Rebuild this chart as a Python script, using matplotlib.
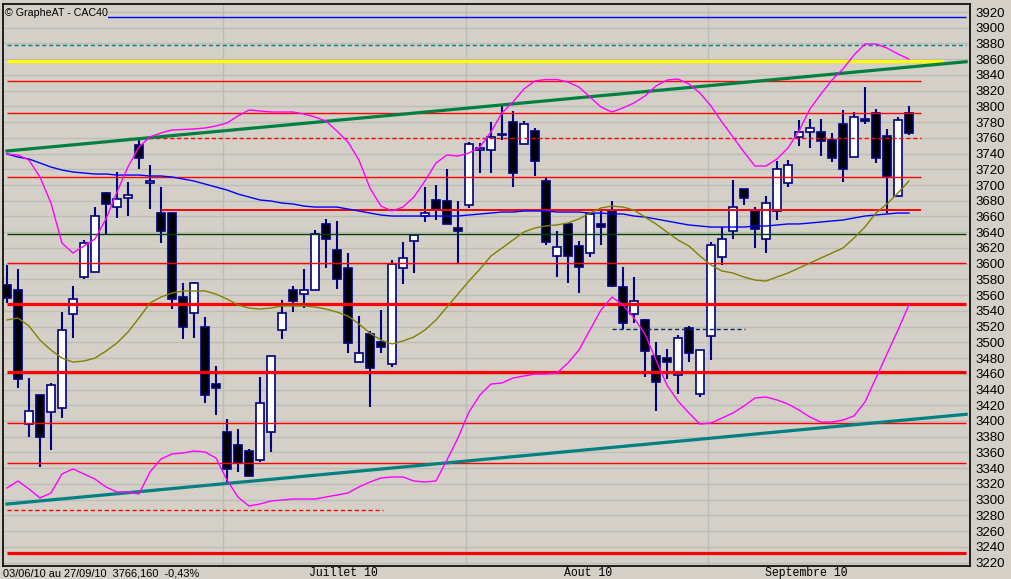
import numpy as np
import matplotlib.pyplot as plt
from matplotlib.transforms import blended_transform_factory

# CAC40 daily candles, 03/06/10 -> 27/09/10 (one entry per trading day)
opens = [3573, 3567, 3396, 3433, 3411, 3416, 3536, 3583, 3590, 3690,
         3672, 3684, 3751, 3702, 3665, 3665, 3558, 3537, 3519, 3447,
         3386, 3370, 3362, 3351, 3386, 3516, 3567, 3562, 3567, 3651,
         3617, 3594, 3475, 3511, 3500, 3472, 3595, 3629, 3661, 3681,
         3680, 3646, 3675, 3744, 3745, 3763, 3780, 3752, 3769, 3705,
         3610, 3650, 3622, 3614, 3650, 3667, 3570, 3536, 3529, 3483,
         3480, 3459, 3518, 3434, 3508, 3609, 3641, 3695, 3667, 3632,
         3667, 3702, 3761, 3767, 3767, 3757, 3777, 3736, 3784, 3792,
         3762, 3686, 3792]
highs = [3598, 3593, 3455, 3433, 3448, 3539, 3571, 3630, 3672, 3691,
         3717, 3704, 3759, 3726, 3697, 3666, 3576, 3577, 3532, 3470,
         3402, 3390, 3364, 3456, 3483, 3554, 3571, 3593, 3643, 3657,
         3654, 3614, 3534, 3515, 3541, 3605, 3628, 3637, 3698, 3700,
         3720, 3680, 3755, 3753, 3780, 3802, 3794, 3781, 3772, 3709,
         3642, 3651, 3629, 3666, 3668, 3680, 3596, 3583, 3530, 3501,
         3492, 3509, 3521, 3490, 3627, 3647, 3706, 3695, 3672, 3686,
         3731, 3732, 3783, 3784, 3784, 3766, 3795, 3793, 3825, 3797,
         3771, 3786, 3801]
lows = [3550, 3442, 3380, 3342, 3363, 3404, 3506, 3581, 3589, 3638,
        3658, 3661, 3721, 3670, 3626, 3543, 3504, 3506, 3423, 3407,
        3320, 3335, 3330, 3348, 3360, 3504, 3539, 3544, 3567, 3595,
        3568, 3486, 3475, 3418, 3487, 3468, 3574, 3588, 3653, 3655,
        3651, 3601, 3671, 3715, 3715, 3757, 3697, 3752, 3711, 3624,
        3583, 3576, 3563, 3609, 3624, 3570, 3517, 3524, 3456, 3413,
        3453, 3434, 3475, 3430, 3478, 3598, 3631, 3674, 3620, 3613,
        3656, 3697, 3750, 3747, 3737, 3729, 3704, 3736, 3777, 3728,
        3665, 3685, 3763]
closes = [3556, 3454, 3413, 3379, 3446, 3516, 3555, 3626, 3661, 3676,
          3682, 3687, 3735, 3705, 3641, 3555, 3519, 3576, 3433, 3442,
          3339, 3347, 3330, 3423, 3483, 3537, 3553, 3567, 3638, 3632,
          3581, 3499, 3486, 3467, 3494, 3600, 3607, 3636, 3665, 3669,
          3651, 3642, 3752, 3747, 3761, 3764, 3715, 3777, 3730, 3627,
          3621, 3610, 3596, 3663, 3647, 3571, 3525, 3552, 3489, 3449,
          3475, 3506, 3486, 3490, 3624, 3631, 3672, 3684, 3644, 3677,
          3721, 3725, 3767, 3773, 3756, 3735, 3721, 3787, 3781, 3734,
          3711, 3783, 3766]

# indicators
ma_long = [3739.5, 3735.6, 3733.1, 3728.0, 3722.9, 3719.1, 3716.6, 3715.3, 3714.0, 3714.0,
           3712.7, 3712.7, 3712.7, 3711.5, 3711.5, 3710.2, 3707.7, 3705.1, 3701.3, 3697.5,
           3693.7, 3688.6, 3684.8, 3681.0, 3679.7, 3677.1, 3675.9, 3673.3, 3672.0, 3672.0,
           3672.0, 3669.5, 3667.0, 3664.4, 3661.9, 3660.6, 3660.6, 3660.6, 3660.6, 3660.6,
           3660.6, 3660.6, 3661.9, 3663.2, 3664.4, 3665.7, 3665.7, 3667.0, 3667.0, 3667.0,
           3665.7, 3665.7, 3665.7, 3664.4, 3664.4, 3663.2, 3663.2, 3660.6, 3659.3, 3656.8,
           3654.3, 3651.7, 3649.2, 3647.9, 3646.6, 3646.6, 3646.6, 3646.6, 3647.9, 3647.9,
           3649.2, 3650.5, 3650.5, 3651.7, 3653.0, 3654.3, 3655.5, 3658.1, 3660.6, 3661.9,
           3663.2, 3664.4, 3664.4]
ma_short = [3528.4, 3530.9, 3520.8, 3502.9, 3490.2, 3480.0, 3474.9, 3476.2, 3480.0, 3488.9,
            3499.1, 3513.1, 3530.9, 3550.0, 3557.6, 3562.7, 3565.3, 3565.3, 3565.3, 3561.4,
            3555.1, 3547.5, 3543.6, 3542.3, 3543.6, 3546.2, 3546.2, 3546.2, 3544.9, 3542.3,
            3538.5, 3533.5, 3523.3, 3511.8, 3502.9, 3497.9, 3501.7, 3506.8, 3515.7, 3528.4,
            3544.9, 3561.4, 3577.9, 3593.2, 3609.8, 3619.9, 3630.1, 3640.3, 3645.4, 3648.0,
            3649.3, 3651.8, 3656.9, 3664.4, 3670.8, 3673.3, 3672.0, 3668.2, 3659.3, 3650.5,
            3640.3, 3630.1, 3622.5, 3609.8, 3598.3, 3590.7, 3588.1, 3583.1, 3579.2, 3577.9,
            3583.1, 3588.1, 3594.5, 3600.8, 3607.2, 3613.6, 3619.9, 3632.6, 3646.6, 3664.4,
            3675.9, 3689.9, 3705.1]
boll_up = [3739.5, 3738.2, 3731.8, 3710.2, 3677.2, 3626.3, 3613.6, 3622.5, 3631.4, 3656.8,
           3691.1, 3723.0, 3748.4, 3761.2, 3766.2, 3770.0, 3770.6, 3771.3, 3772.5, 3775.1,
           3778.9, 3787.8, 3795.4, 3794.1, 3792.9, 3792.9, 3792.9, 3790.3, 3786.5, 3781.4,
           3768.7, 3754.7, 3731.8, 3696.2, 3673.3, 3667.0, 3672.0, 3684.8, 3705.1, 3728.0,
           3738.2, 3736.9, 3740.7, 3748.4, 3767.4, 3791.6, 3805.6, 3822.1, 3832.3, 3834.2,
           3834.2, 3831.0, 3824.6, 3811.9, 3799.2, 3792.9, 3798.0, 3804.3, 3813.2, 3825.9,
           3833.5, 3834.8, 3828.5, 3817.0, 3800.5, 3780.1, 3761.1, 3742.0, 3724.2, 3724.2,
           3733.1, 3747.1, 3768.7, 3796.7, 3815.7, 3833.5, 3847.5, 3865.3, 3879.3, 3879.3,
           3874.2, 3866.6, 3860.2]
boll_low = [3314.8, 3323.7, 3313.5, 3302.1, 3308.4, 3332.6, 3339.0, 3332.6, 3326.2, 3316.1,
            3309.7, 3309.7, 3307.1, 3335.1, 3351.6, 3358.0, 3359.3, 3361.8, 3360.6, 3352.9,
            3325.0, 3303.3, 3291.9, 3294.4, 3298.2, 3299.5, 3300.8, 3300.8, 3300.8, 3303.3,
            3305.9, 3308.4, 3316.1, 3322.4, 3327.5, 3328.8, 3328.8, 3323.7, 3322.4, 3323.7,
            3350.4, 3378.4, 3411.4, 3433.0, 3447.0, 3448.3, 3454.6, 3457.2, 3459.7, 3459.7,
            3461.0, 3473.7, 3490.2, 3515.7, 3541.1, 3557.6, 3547.5, 3531.0, 3510.6, 3477.5,
            3445.7, 3425.4, 3410.1, 3396.1, 3397.4, 3403.7, 3410.1, 3419.0, 3429.2, 3430.5,
            3426.7, 3421.6, 3413.9, 3405.0, 3398.6, 3398.6, 3401.2, 3406.3, 3424.1, 3454.6,
            3485.1, 3515.7, 3547.5]

# horizontal levels drawn by the analyst
red_thin_short = [3832.3, 3791.2, 3709.8]
red_thin_long = [3600.5, 3397.0, 3346.0]
red_thick = [3548.7, 3462.3, 3232.5]
red_mid = 3668.0
red_dashed = 3759.4
red_dashed_low = 3287.0
navy_dashed = 3517.0
green_level = 3637.7
teal_dashed = 3878.0
yellow_level = 3857.3
blue_level = 3913.6

# trend channel (value at first and last drawn point)
channel_x = [0, 87.2]
channel_top = [3743.3, 3856.8]
channel_bottom = [3294.4, 3408.5]

month_breaks = [19.6, 41.7, 63.7]
month_names = ['Juillet 10', 'Aout 10', 'Septembre 10']
month_label_x = [30.6, 52.8, 72.7]

bg = '#d4d0c8'
navy = '#000080'

fig = plt.figure(figsize=(10.12, 5.79), dpi=100, facecolor=bg)
ax = fig.add_axes([3 / 1012, 1 - 566 / 579, 967 / 1012, 562 / 579])
ax.set_facecolor(bg)

n = len(opens)
x = np.arange(n)
o = np.array(opens)
c = np.array(closes)

ax.set_xlim(-0.36, 87.55)
ax.set_ylim(3215.6, 3930.2)

# grid
for v in range(3220, 3921, 20):
    ax.axhline(v, color='#bebcb8', lw=1, zorder=0)
for mb in month_breaks:
    ax.axvline(mb, color='#bebcb8', lw=1, zorder=0)

# candles
ax.vlines(x, lows, highs, color=navy, lw=1.5, zorder=2)
up = c >= o
bottoms = np.minimum(o, c)
heights = np.maximum(np.abs(c - o), 1.5)
ax.bar(x[up], heights[up], bottom=bottoms[up], width=0.7,
       color='white', edgecolor=navy, lw=1.2, zorder=3)
ax.bar(x[~up], heights[~up], bottom=bottoms[~up], width=0.7,
       color='black', edgecolor=navy, lw=1.2, zorder=3)

# levels
ax.hlines(red_thin_short, 0, 83.1, color='red', lw=1.0, zorder=4)
ax.hlines(red_thin_long, 0, 87.2, color='red', lw=1.0, zorder=4)
ax.hlines(red_thick, 0, 87.2, color='red', lw=2.3, zorder=4)
ax.hlines(red_mid, 14, 83.1, color='red', lw=1.4, zorder=4)
ax.hlines(red_dashed, 11, 83.1, color='red', lw=1.0, linestyles=(0, (3, 2)), zorder=4)
ax.hlines(red_dashed_low, 0, 34.2, color='red', lw=1.0, linestyles=(0, (3, 2)), zorder=4)
ax.hlines(navy_dashed, 55, 67.1, color='#003060', lw=1.0, linestyles=(0, (3, 2)), zorder=4)
ax.hlines(green_level, 0, 87.2, color='#004000', lw=1.0, zorder=4)
ax.hlines(teal_dashed, 0, 87.2, color='#008080', lw=1.0, linestyles=(0, (3, 2)), zorder=4)
ax.hlines(yellow_level, 0, 85.1, color='yellow', lw=2.3, zorder=4)
ax.hlines(blue_level, 8.8, 87.2, color='blue', lw=1.0, zorder=4)

# trend channel
ax.plot(channel_x, channel_top, color='#008040', lw=2.3, zorder=5)
ax.plot(channel_x, channel_bottom, color='#008080', lw=2.3, zorder=5)

# moving averages and bands
ax.plot(x, ma_long, color='blue', lw=1.0, zorder=6)
ax.plot(x, ma_short, color='#808000', lw=1.0, zorder=6)
ax.plot(x, boll_up, color='magenta', lw=1.0, zorder=6)
ax.plot(x, boll_low, color='magenta', lw=1.0, zorder=6)

# axes styling
for s in ax.spines.values():
    s.set_color('black')
    s.set_linewidth(1.2)
ax.set_xticks([])
ax.yaxis.tick_right()
ax.set_yticks(range(3220, 3921, 20))
ax.tick_params(axis='y', length=0, pad=4, labelsize=9.5, labelcolor='black')
for lab in ax.get_yticklabels():
    lab.set_family('Liberation Sans')

ax.text(0.002, 0.993, '\u00a9 GrapheAT - CAC40', transform=ax.transAxes,
        ha='left', va='top', fontsize=7.7, family='Liberation Sans',
        zorder=10, bbox=dict(facecolor=bg, edgecolor='none', pad=0.5))

tr = blended_transform_factory(ax.transData, ax.transAxes)
for name, xm in zip(month_names, month_label_x):
    ax.text(xm, -0.012, name, transform=tr, ha='center', va='center',
            fontsize=8.3, family='Liberation Mono')

fig.text(3 / 1012, 1 - 573 / 579, '03/06/10 au 27/09/10  3766,160  -0,43%',
         ha='left', va='center', fontsize=7.9, family='Liberation Sans')

fig.savefig('out.png', dpi=100, facecolor=bg)
